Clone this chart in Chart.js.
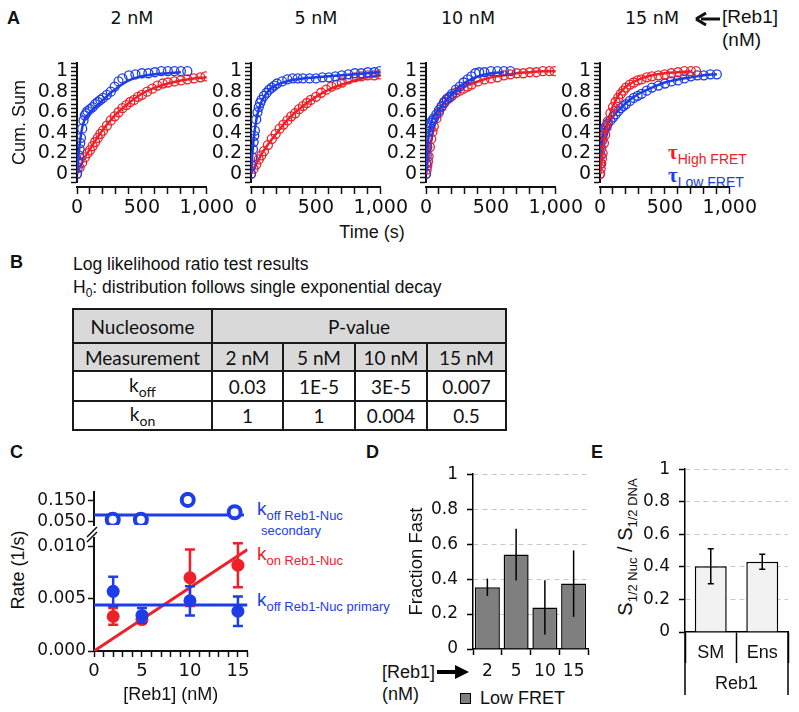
<!DOCTYPE html>
<html>
<head>
<meta charset="utf-8">
<script src="https://cdn.jsdelivr.net/npm/chart.js@4.4.1/dist/chart.umd.min.js"></script>
<style>
  body { margin: 0; background: #fff; }
  #fig { position: relative; width: 799px; height: 712px; overflow: hidden; background: #fff;
         font-family: "Liberation Sans", Arial, sans-serif; color: #111; }
  #fig canvas { position: absolute; }
  .t { position: absolute; white-space: nowrap; line-height: 20px; }
  .t sub { font-size: 13px; vertical-align: -5px; }
  .panel { font-weight: bold; font-size: 18px; }
  .mid { transform: translateX(-50%); }
  .rot { transform: translate(-50%, -50%) rotate(-90deg); }
  .conc { font-family: "DejaVu Sans", sans-serif; font-size: 17.5px; }
  table.pv { position: absolute; left: 72px; top: 308px; border-collapse: collapse;
             font-family: Lato, "Open Sans", sans-serif; font-size: 19px; color: #111; }
  table.pv td { border: 2px solid #1a1a1a; text-align: center; padding: 0; }
  table.pv tr.h td { background: #d9d9d9; }
  table.pv sub { font-size: 14px; vertical-align: -5px; }
</style>
</head>
<body>
<div id="fig">
  <div class="t panel" style="left:7px;top:8px">A</div>
  <div class="t conc mid" style="left:132px;top:8px">2 nM</div>
  <div class="t conc mid" style="left:316px;top:8px">5 nM</div>
  <div class="t conc mid" style="left:468px;top:8px">10 nM</div>
  <div class="t conc mid" style="left:652px;top:8px">15 nM</div>
  <svg style="position:absolute;left:695px;top:12px" width="26" height="14">
    <path d="M6 7 H25" stroke="#111" stroke-width="3"/>
    <path d="M1 7 L11 1 M1 7 L11 13" stroke="#111" stroke-width="3" fill="none"/>
  </svg>
  <div class="t" style="left:722px;top:7px;font-size:19px">[Reb1]</div>
  <div class="t" style="left:722px;top:30px;font-size:19px">(nM)</div>
  <div class="t" style="left:668px;top:140px;color:#ee2028"><span style="font:bold 21px 'Liberation Serif',serif">τ</span><sub style="font-size:14px">High FRET</sub></div>
  <div class="t" style="left:668px;top:163px;color:#1d3de8"><span style="font:bold 21px 'Liberation Serif',serif">τ</span><sub style="font-size:14px">Low FRET</sub></div>
  <div class="t mid" style="left:372px;top:222px;font-size:18px">Time (s)</div>

  <div class="t panel" style="left:10px;top:252px">B</div>
  <div class="t" style="left:73px;top:254px;font-size:17.5px">Log likelihood ratio test results</div>
  <div class="t" style="left:73px;top:277px;font-size:17.5px">H<sub style="font-size:12px;vertical-align:-4px">0</sub>: distribution follows single exponential decay</div>
  <table class="pv">
    <tr class="h" style="height:34px"><td style="width:137px">Nucleosome</td><td colspan="4">P-value</td></tr>
    <tr class="h" style="height:28px"><td>Measurement</td><td style="width:69px">2 nM</td><td style="width:70px">5 nM</td><td style="width:70px">10 nM</td><td style="width:77px">15 nM</td></tr>
    <tr style="height:30px"><td>k<sub>off</sub></td><td>0.03</td><td>1E-5</td><td>3E-5</td><td>0.007</td></tr>
    <tr style="height:29px"><td>k<sub>on</sub></td><td>1</td><td>1</td><td>0.004</td><td>0.5</td></tr>
  </table>

  <div class="t panel" style="left:10px;top:442px">C</div>
  <div class="t rot" style="left:18px;top:570px;font-size:18px">Rate (1/s)</div>
  <div class="t" style="left:257px;top:499px;color:#1d3de8"><span style="font-size:19px">k</span><sub>off Reb1-Nuc</sub></div>
  <div class="t" style="left:261px;top:521px;color:#1d3de8;font-size:13px">secondary</div>
  <div class="t" style="left:257px;top:544px;color:#ee2028"><span style="font-size:19px">k</span><sub>on Reb1-Nuc</sub></div>
  <div class="t" style="left:257px;top:590px;color:#1d3de8"><span style="font-size:19px">k</span><sub>off Reb1-Nuc primary</sub></div>

  <div class="t panel" style="left:366px;top:442px">D</div>
  <div class="t" style="left:382px;top:662px;font-size:18px">[Reb1]</div>
  <svg style="position:absolute;left:436px;top:664px" width="34" height="16">
    <path d="M1 8 H24" stroke="#000" stroke-width="4"/>
    <path d="M19 1 L33 8 L19 15 Z" fill="#000"/>
  </svg>
  <div class="t" style="left:382px;top:684px;font-size:18px">(nM)</div>
  <div style="position:absolute;left:460px;top:693px;width:11px;height:11px;box-sizing:border-box;background:#7f7f7f;border:1.5px solid #000"></div>
  <div class="t" style="left:480px;top:688px;font-size:18px">Low FRET</div>

  <div class="t panel" style="left:591px;top:442px">E</div>
  <div class="t rot" style="left:629px;top:547px;font-size:20px">S<sub>1/2 Nuc</sub> / S<sub>1/2 DNA</sub></div>

  <canvas id="cum2" width="238" height="190" style="left:0px;top:40px"></canvas>
  <canvas id="cum5" width="221" height="190" style="left:191px;top:40px"></canvas>
  <canvas id="cum10" width="221" height="190" style="left:366px;top:40px"></canvas>
  <canvas id="cum15" width="221" height="190" style="left:540px;top:40px"></canvas>
  <canvas id="rateTop" width="230" height="68" style="left:24px;top:472px"></canvas>
  <canvas id="rateBottom" width="230" height="189" style="left:24px;top:522px"></canvas>
  <canvas id="fractionChart" width="188" height="229" style="left:406px;top:455px"></canvas>
  <canvas id="ratioChart" width="154" height="249" style="left:640px;top:450px"></canvas>
</div>

<script>
const BLUE = "#1d3de8";
const RED = "#ee2028";

// ---- panel A: cumulative sums of dwell times (s) ----
const fitTimes = [0, 10, 20, 40, 60, 80, 100, 150, 200, 250, 300, 400, 500, 600, 700, 800, 900, 1000];

const lowFret2T = [0, 5, 10, 15, 20, 25, 30, 40, 50, 60, 70, 80, 100, 120, 140, 160, 180, 200, 230, 260, 290, 320, 350, 400, 450, 500, 550, 600, 650, 700, 750, 800, 850];
const lowFret2V = [0, 0.06, 0.12, 0.18, 0.24, 0.30, 0.35, 0.44, 0.52, 0.57, 0.59, 0.61, 0.63, 0.65, 0.68, 0.70, 0.72, 0.74, 0.77, 0.80, 0.85, 0.90, 0.93, 0.96, 0.97, 0.98, 0.98, 0.99, 1.0, 1.0, 1.0, 1.0, 1.0];
const highFret2T = [0, 20, 40, 60, 80, 100, 120, 140, 160, 180, 200, 230, 260, 290, 320, 350, 380, 410, 440, 470, 500, 540, 580, 620, 660, 700, 750, 800, 850, 900, 950, 990];
const highFret2V = [0, 0.06, 0.11, 0.16, 0.20, 0.23, 0.27, 0.31, 0.35, 0.39, 0.42, 0.47, 0.52, 0.56, 0.60, 0.64, 0.67, 0.70, 0.72, 0.75, 0.77, 0.80, 0.83, 0.86, 0.88, 0.89, 0.90, 0.91, 0.92, 0.93, 0.94, 0.95];
const lowFit2 = [0, 0.15, 0.28, 0.45, 0.53, 0.57, 0.60, 0.66, 0.72, 0.78, 0.83, 0.91, 0.95, 0.97, 0.98, 0.99, null, null];
const highFit2 = [0, 0.03, 0.06, 0.11, 0.16, 0.20, 0.24, 0.34, 0.43, 0.51, 0.58, 0.69, 0.78, 0.84, 0.88, 0.91, 0.93, 0.94];

const lowFret5T = [0, 5, 10, 15, 20, 25, 30, 40, 50, 60, 70, 80, 100, 120, 140, 160, 180, 200, 240, 280, 320, 360, 400, 450, 500, 550, 600, 650, 700, 750, 800, 850, 900, 950, 990];
const lowFret5V = [0, 0.08, 0.16, 0.24, 0.31, 0.37, 0.42, 0.53, 0.60, 0.65, 0.69, 0.72, 0.76, 0.79, 0.82, 0.84, 0.86, 0.88, 0.90, 0.92, 0.93, 0.93, 0.93, 0.93, 0.93, 0.94, 0.94, 0.95, 0.96, 0.97, 0.98, 0.98, 0.99, 0.99, 1.0];
const highFret5T = [0, 20, 40, 60, 80, 100, 130, 160, 190, 220, 250, 280, 310, 340, 370, 400, 430, 460, 500, 540, 580, 620, 660, 700, 750, 800, 850, 900, 950, 990];
const highFret5V = [0, 0.05, 0.09, 0.14, 0.18, 0.22, 0.28, 0.34, 0.39, 0.44, 0.48, 0.52, 0.56, 0.59, 0.63, 0.66, 0.69, 0.72, 0.75, 0.79, 0.82, 0.85, 0.87, 0.89, 0.92, 0.94, 0.95, 0.96, 0.96, 0.97];
const lowFit5 = [0, 0.18, 0.33, 0.52, 0.63, 0.70, 0.75, 0.83, 0.87, 0.89, 0.91, 0.93, 0.94, 0.95, 0.96, 0.97, 0.98, 0.99];
const highFit5 = [0, 0.025, 0.05, 0.10, 0.14, 0.19, 0.23, 0.32, 0.40, 0.48, 0.55, 0.66, 0.75, 0.82, 0.87, 0.91, 0.94, 0.96];

const lowFret10T = [0, 3, 6, 10, 15, 20, 25, 30, 40, 50, 60, 80, 100, 120, 140, 160, 180, 200, 230, 260, 290, 320, 350, 380, 410, 450, 500, 550, 600, 650];
const lowFret10V = [0, 0.10, 0.18, 0.26, 0.35, 0.41, 0.45, 0.47, 0.50, 0.52, 0.54, 0.58, 0.62, 0.66, 0.70, 0.73, 0.75, 0.78, 0.82, 0.85, 0.89, 0.92, 0.95, 0.98, 0.99, 0.99, 1.0, 1.0, 1.0, 1.0];
const highFret10T = [0, 5, 10, 15, 20, 30, 40, 50, 60, 80, 100, 120, 140, 160, 180, 200, 230, 260, 290, 320, 350, 400, 450, 500, 550, 600, 650, 700, 750, 800, 850, 900, 950, 990];
const highFret10V = [0, 0.04, 0.08, 0.12, 0.17, 0.26, 0.34, 0.41, 0.46, 0.54, 0.60, 0.65, 0.69, 0.72, 0.74, 0.76, 0.79, 0.81, 0.83, 0.85, 0.87, 0.90, 0.92, 0.93, 0.94, 0.96, 0.97, 0.98, 0.98, 0.99, 0.99, 1.0, 1.0, 1.0];
const lowFit10 = [0, 0.22, 0.36, 0.50, 0.56, 0.60, 0.63, 0.71, 0.78, 0.84, 0.89, 0.95, 0.98, 0.99, null, null, null, null];
const highFit10 = [0, 0.09, 0.17, 0.32, 0.44, 0.53, 0.60, 0.71, 0.77, 0.81, 0.85, 0.90, 0.94, 0.96, 0.98, 0.99, 1.0, 1.0];

const lowFret15T = [0, 3, 6, 10, 15, 20, 25, 30, 40, 50, 60, 80, 100, 120, 140, 160, 180, 200, 230, 260, 290, 320, 360, 400, 450, 500, 550, 600, 650, 700, 750, 800, 850, 900];
const lowFret15V = [0, 0.10, 0.18, 0.25, 0.32, 0.37, 0.40, 0.42, 0.45, 0.47, 0.49, 0.52, 0.55, 0.58, 0.61, 0.64, 0.66, 0.68, 0.71, 0.74, 0.76, 0.78, 0.81, 0.84, 0.86, 0.88, 0.90, 0.91, 0.93, 0.95, 0.96, 0.96, 0.97, 0.97];
const highFret15T = [0, 5, 10, 15, 20, 30, 40, 50, 60, 80, 100, 120, 140, 160, 180, 200, 230, 260, 290, 320, 360, 400, 450, 500, 550, 600, 650, 700, 740];
const highFret15V = [0, 0.05, 0.10, 0.15, 0.20, 0.30, 0.38, 0.45, 0.51, 0.59, 0.65, 0.70, 0.74, 0.78, 0.81, 0.84, 0.87, 0.89, 0.91, 0.92, 0.94, 0.95, 0.96, 0.97, 0.98, 0.99, 1.0, 1.0, 1.0];
const lowFit15 = [0, 0.25, 0.36, 0.45, 0.49, 0.53, 0.56, 0.63, 0.69, 0.74, 0.78, 0.84, 0.89, 0.92, 0.94, 0.96, 0.97, null];
const highFit15 = [0, 0.10, 0.20, 0.37, 0.50, 0.59, 0.66, 0.78, 0.85, 0.89, 0.92, 0.96, 0.98, 0.99, 1.0, null, null, null];

// ---- panel C: rates vs [Reb1] ----
const concentrations = [2, 5, 10, 15];
const koffSecondary = [0.060, 0.060, 0.153, 0.095];
const koffPrimary = [0.0057, 0.0034, 0.0048, 0.0038];
const koffPrimaryErr = [0.0014, 0.0007, 0.0014, 0.0014];
const konRate = [0.0033, 0.0030, 0.0070, 0.0082];
const konErr = [0.0008, 0.0003, 0.0027, 0.0021];
const rateFitX = [0, 16];
const koffSecondaryFit = [0.082, 0.082];
const koffPrimaryFit = [0.0044, 0.0044];
const konFit = [0, 0.0097];
const rateTopTicks = [0.050, 0.150];
const rateBottomTicks = [0, 0.005, 0.010];

// ---- panel D: fraction fast ----
const reb1Labels = ["2", "5", "10", "15"];
const fractionFast = [0.353, 0.54, 0.238, 0.374];
const fractionFastErr = [0.05, 0.148, 0.155, 0.19];

// ---- panel E: S1/2 ratio ----
const methodLabels = ["SM", "Ens"];
const halfRatio = [0.404, 0.432];
const halfRatioErr = [0.108, 0.046];

Chart.defaults.font.family = "'DejaVu Sans', sans-serif";
Chart.defaults.color = "#111";

function toPoints(xs, ys) {
  return xs.map((x, i) => ({ x: x, y: ys[i] })).filter(p => p.y !== null);
}

const errorBars = {
  id: "errorBars",
  afterDatasetDraw(chart, args) {
    const ds = chart.data.datasets[args.index];
    if (!ds.errors) return;
    const yScale = chart.scales[args.meta.yAxisID];
    const ctx = chart.ctx;
    const cap = ds.errorCap || 0;
    ctx.save();
    ctx.strokeStyle = ds.errorColor || "#000";
    ctx.lineWidth = ds.errorWidth || 1.5;
    args.meta.data.forEach((el, i) => {
      const d = ds.data[i];
      const v = typeof d === "number" ? d : d.y;
      const top = yScale.getPixelForValue(v + ds.errors[i]);
      const bottom = yScale.getPixelForValue(v - ds.errors[i]);
      ctx.beginPath();
      ctx.moveTo(el.x, top);
      ctx.lineTo(el.x, bottom);
      if (cap) {
        ctx.moveTo(el.x - cap, top);
        ctx.lineTo(el.x + cap, top);
        ctx.moveTo(el.x - cap, bottom);
        ctx.lineTo(el.x + cap, bottom);
      }
      ctx.stroke();
    });
    ctx.restore();
  }
};

// the "//" marks on the broken rate axis
const axisBreak = {
  id: "axisBreak",
  afterDraw(chart) {
    const { ctx, chartArea } = chart;
    const x = chartArea.left;
    const y = chartArea.top;
    ctx.save();
    ctx.strokeStyle = "#111";
    ctx.lineWidth = 1.5;
    ctx.beginPath();
    ctx.moveTo(x - 7, y - 1);
    ctx.lineTo(x + 3, y - 11);
    ctx.moveTo(x - 7, y + 4);
    ctx.lineTo(x + 3, y - 6);
    ctx.stroke();
    ctx.restore();
  }
};

// outer lines of the grouped category axis in E
const groupLines = {
  id: "groupLines",
  afterDraw(chart) {
    const { ctx, chartArea } = chart;
    const xs = chart.scales.x;
    ctx.save();
    ctx.strokeStyle = "#000";
    ctx.lineWidth = 1.5;
    [chartArea.left, chartArea.right].forEach(x => {
      ctx.beginPath();
      ctx.moveTo(x, chartArea.bottom);
      ctx.lineTo(x, xs.bottom);
      ctx.stroke();
    });
    ctx.restore();
  }
};

function circleSet(xs, ys, color) {
  return {
    data: toPoints(xs, ys),
    showLine: false,
    pointRadius: 4.5,
    pointBorderWidth: 1.3,
    pointBorderColor: color,
    pointBackgroundColor: "rgba(0,0,0,0)"
  };
}

function fitSet(ys, color) {
  return {
    data: toPoints(fitTimes, ys),
    showLine: true,
    cubicInterpolationMode: "monotone",
    borderColor: color,
    borderWidth: 2.5,
    pointRadius: 0
  };
}

function cumChart(id, blueT, blueV, blueFit, redT, redV, redFit, redOnTop, withTitle) {
  const blue = [circleSet(blueT, blueV, BLUE), fitSet(blueFit, BLUE)];
  const red = [circleSet(redT, redV, RED), fitSet(redFit, RED)];
  const axisWidth = withTitle ? 77 : 60;

  new Chart(document.getElementById(id), {
    type: "scatter",
    data: { datasets: redOnTop ? red.concat(blue) : blue.concat(red) },
    options: {
      responsive: false,
      animation: false,
      events: [],
      layout: { padding: { top: 23, right: 27, bottom: 48, left: 0 } },
      plugins: { legend: { display: false }, tooltip: { enabled: false } },
      scales: {
        x: {
          type: "linear",
          min: 0,
          max: 1000,
          position: { y: -0.125 },
          ticks: {
            stepSize: 100,
            autoSkip: false,
            maxRotation: 0,
            minRotation: 0,
            padding: 4,
            font: { size: 19 },
            callback: v => v % 500 === 0 ? v.toLocaleString("en-US") : ""
          },
          grid: { drawOnChartArea: false, tickLength: 6, tickWidth: 1.5, tickColor: "#111" },
          border: { color: "#111", width: 2 }
        },
        y: {
          min: -0.08,
          max: 1.08,
          ticks: {
            stepSize: 0.04,
            autoSkip: false,
            padding: 3,
            font: { size: 19 },
            callback: v => {
              const r = Math.round(v * 100);
              return r >= 0 && r <= 100 && r % 20 === 0 ? String(r / 100) : "";
            }
          },
          grid: { drawOnChartArea: false, tickLength: 6, tickWidth: 1.5, tickColor: "#111" },
          border: { color: "#111", width: 2 },
          title: {
            display: withTitle,
            text: "Cum. Sum",
            font: { family: "'Liberation Sans', Arial, sans-serif", size: 18 },
            padding: { top: 9, bottom: 0 }
          },
          afterFit: s => { s.width = axisWidth; }
        }
      }
    }
  });
}

cumChart("cum2", lowFret2T, lowFret2V, lowFit2, highFret2T, highFret2V, highFit2, false, true);
cumChart("cum5", lowFret5T, lowFret5V, lowFit5, highFret5T, highFret5V, highFit5, false, false);
cumChart("cum10", lowFret10T, lowFret10V, lowFit10, highFret10T, highFret10V, highFit10, false, false);
cumChart("cum15", lowFret15T, lowFret15V, lowFit15, highFret15T, highFret15V, highFit15, true, false);

const rateAxisFont = { size: 17 };

// C, upper part of the broken axis: secondary off-rate
new Chart(document.getElementById("rateTop"), {
  type: "scatter",
  data: {
    datasets: [
      {
        data: toPoints(concentrations, koffSecondary),
        pointRadius: 6,
        pointBorderWidth: 4,
        pointBorderColor: BLUE,
        pointBackgroundColor: "#fff",
        clip: 0
      },
      {
        data: toPoints(rateFitX, koffSecondaryFit),
        showLine: true,
        borderColor: BLUE,
        borderWidth: 3,
        pointRadius: 0
      }
    ]
  },
  options: {
    responsive: false,
    animation: false,
    events: [],
    layout: { padding: { top: 20, right: 4, bottom: 15, left: 0 } },
    plugins: { legend: { display: false }, tooltip: { enabled: false } },
    scales: {
      x: { type: "linear", min: 0, max: 16, display: false },
      y: {
        min: 0.035,
        max: 0.19,
        afterBuildTicks: s => { s.ticks = rateTopTicks.map(v => ({ value: v })); },
        ticks: { padding: 2, autoSkip: false, font: rateAxisFont, callback: v => v.toFixed(3) },
        grid: { drawOnChartArea: false, tickLength: 6, tickWidth: 1.5, tickColor: "#111" },
        border: { color: "#111", width: 2 },
        afterFit: s => { s.width = 70; }
      }
    }
  }
});

// C, lower part: primary off-rate and on-rate
new Chart(document.getElementById("rateBottom"), {
  type: "scatter",
  data: {
    datasets: [
      {
        data: toPoints(concentrations, koffPrimary),
        errors: koffPrimaryErr,
        errorColor: BLUE,
        errorWidth: 2.5,
        errorCap: 5,
        pointRadius: 6.5,
        pointBorderWidth: 0,
        pointBackgroundColor: BLUE
      },
      {
        data: toPoints(concentrations, konRate),
        errors: konErr,
        errorColor: RED,
        errorWidth: 2.5,
        errorCap: 5,
        pointRadius: 6.5,
        pointBorderWidth: 0,
        pointBackgroundColor: RED
      },
      {
        data: toPoints(rateFitX, koffPrimaryFit),
        showLine: true,
        borderColor: BLUE,
        borderWidth: 3,
        pointRadius: 0
      },
      {
        data: toPoints(rateFitX, konFit),
        showLine: true,
        borderColor: RED,
        borderWidth: 3,
        pointRadius: 0
      }
    ]
  },
  options: {
    responsive: false,
    animation: false,
    events: [],
    layout: { padding: { top: 16, right: 4, bottom: 0, left: 0 } },
    plugins: { legend: { display: false }, tooltip: { enabled: false } },
    scales: {
      x: {
        type: "linear",
        min: 0,
        max: 16,
        ticks: {
          stepSize: 1,
          autoSkip: false,
          maxRotation: 0,
          minRotation: 0,
          padding: 4,
          font: { size: 18 },
          callback: v => v % 5 === 0 ? String(v) : ""
        },
        grid: { drawOnChartArea: false, tickLength: 6, tickWidth: 1.5, tickColor: "#111" },
        border: { color: "#111", width: 2 },
        title: {
          display: true,
          text: "[Reb1] (nM)",
          font: { family: "'Liberation Sans', Arial, sans-serif", size: 18 },
          padding: { top: 0, bottom: 5 }
        },
        afterFit: s => { s.height = 60; }
      },
      y: {
        min: 0,
        max: 0.0108,
        afterBuildTicks: s => { s.ticks = rateBottomTicks.map(v => ({ value: v })); },
        ticks: { padding: 2, autoSkip: false, font: rateAxisFont, callback: v => v.toFixed(3) },
        grid: { drawOnChartArea: false, tickLength: 6, tickWidth: 1.5, tickColor: "#111" },
        border: { color: "#111", width: 2 },
        afterFit: s => { s.width = 70; }
      }
    }
  },
  plugins: [errorBars, axisBreak]
});

function barYAxis(width, title) {
  return {
    min: 0,
    max: 1,
    ticks: { stepSize: 0.2, padding: 9, font: { size: 17 }, callback: v => String(Math.round(v * 10) / 10) },
    grid: {
      color: ctx => ctx.tick.value === 0 ? "rgba(0,0,0,0)" : "#c8c8c8",
      lineWidth: 1,
      tickLength: 6,
      tickWidth: 1.5,
      tickColor: "#000"
    },
    border: { color: "#000", width: 1.5, dash: [5, 4] },
    title: title,
    afterFit: s => { s.width = width; }
  };
}

// D
new Chart(document.getElementById("fractionChart"), {
  type: "bar",
  data: {
    labels: reb1Labels,
    datasets: [{
      data: fractionFast,
      errors: fractionFastErr,
      errorColor: "#000",
      errorWidth: 1.5,
      backgroundColor: "#7f7f7f",
      borderColor: "#000",
      borderWidth: 1.5,
      barPercentage: 0.87,
      categoryPercentage: 1
    }]
  },
  options: {
    responsive: false,
    animation: false,
    events: [],
    layout: { padding: { top: 18, right: 6, bottom: 0, left: 0 } },
    plugins: { legend: { display: false }, tooltip: { enabled: false } },
    scales: {
      x: {
        ticks: { padding: 6, font: { size: 17 } },
        grid: { drawOnChartArea: false, tickLength: 6, tickWidth: 1.5, tickColor: "#000" },
        border: { color: "#000", width: 1.5 },
        afterFit: s => { s.height = 35; }
      },
      y: barYAxis(67, {
        display: true,
        text: "Fraction Fast",
        font: { family: "'Liberation Sans', Arial, sans-serif", size: 18.5 },
        padding: { top: 0, bottom: 0 }
      })
    }
  },
  plugins: [errorBars]
});

// E
new Chart(document.getElementById("ratioChart"), {
  type: "bar",
  data: {
    labels: methodLabels,
    datasets: [{
      data: halfRatio,
      errors: halfRatioErr,
      errorColor: "#000",
      errorWidth: 1.5,
      errorCap: 3,
      backgroundColor: "#f2f2f2",
      borderColor: "#000",
      borderWidth: 1.5,
      barPercentage: 0.62,
      categoryPercentage: 1
    }]
  },
  options: {
    responsive: false,
    animation: false,
    events: [],
    layout: { padding: { top: 13, right: 6, bottom: 4, left: 0 } },
    plugins: { legend: { display: false }, tooltip: { enabled: false } },
    scales: {
      x: {
        ticks: { padding: -21, font: { family: "'Liberation Sans', Arial, sans-serif", size: 18 } },
        grid: { drawOnChartArea: false, tickLength: 31, tickWidth: 1.5, tickColor: "#000" },
        border: { color: "#000", width: 1.5 },
        title: {
          display: true,
          text: "Reb1",
          font: { family: "'Liberation Sans', Arial, sans-serif", size: 18 },
          padding: { top: 0, bottom: 0 }
        },
        afterFit: s => { s.height = 63; }
      },
      y: barYAxis(45, { display: false })
    }
  },
  plugins: [errorBars, groupLines]
});
</script>
</body>
</html>
